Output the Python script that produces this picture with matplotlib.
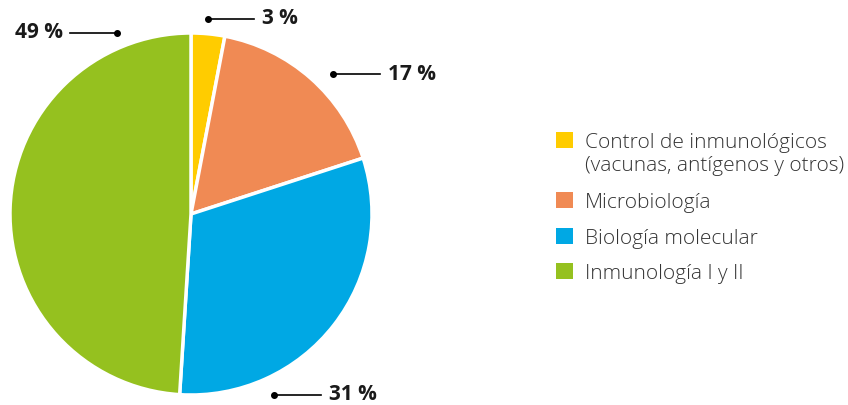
import matplotlib
matplotlib.use("Agg")
import matplotlib.pyplot as plt
from matplotlib.patches import Rectangle

# data
categories = ["Control de inmunológicos\n(vacunas, antígenos y otros)",
              "Microbiología", "Biología molecular", "Inmunología I y II"]
shares = [3, 17, 31, 49]
colors = ["#FFCC00", "#F08A54", "#00A8E4", "#95C11F"]
pct_labels = ["3 %", "17 %", "31 %", "49 %"]

plt.rcParams['font.family'] = ['Open Sans', 'DejaVu Sans']

W, H = 848, 405
fig = plt.figure(figsize=(W / 100, H / 100), dpi=100)
ax = fig.add_axes([0, 0, 1, 1])

# pie, working in pixel-like units (y up)
cx, cy, r = 191, H - 214, 181
wedges, _ = ax.pie(shares, colors=colors, startangle=90, counterclock=False,
                   center=(cx, cy), radius=r,
                   wedgeprops=dict(edgecolor="white", linewidth=2.5))
ax.set_xlim(0, W)
ax.set_ylim(0, H)
ax.set_aspect("equal")
ax.axis("off")

# leader lines: (dot x, line other end x, y, text x, text ha) in image px
leaders = [(208, 254, 19, 262, "left"),
           (333, 380, 74, 388, "left"),
           (274, 321, 395, 329, "left"),
           (117, 70, 33, 63, "right")]
for lab, (xd, xe, yy, xt, ha) in zip(pct_labels, leaders):
    ax.plot([xd, xe], [H - yy, H - yy], color="black", lw=1.2)
    ax.plot([xd], [H - yy], "o", color="black", ms=4)
    ax.text(xt, H - yy, lab, ha=ha, va="center", fontsize=15,
            fontweight="bold", color="#1a1a1a")

# legend
leg_y = [140, 200, 236, 271]
for lab, c, yy in zip(categories, colors, leg_y):
    ax.add_patch(Rectangle((556, H - yy - 8), 17, 16, color=c, lw=0))
    ax.text(585, H - yy + 7, lab, ha="left", va="top", fontsize=15,
            fontweight="light", color="#333333", linespacing=1.2)

fig.savefig("out.png", dpi=100)
